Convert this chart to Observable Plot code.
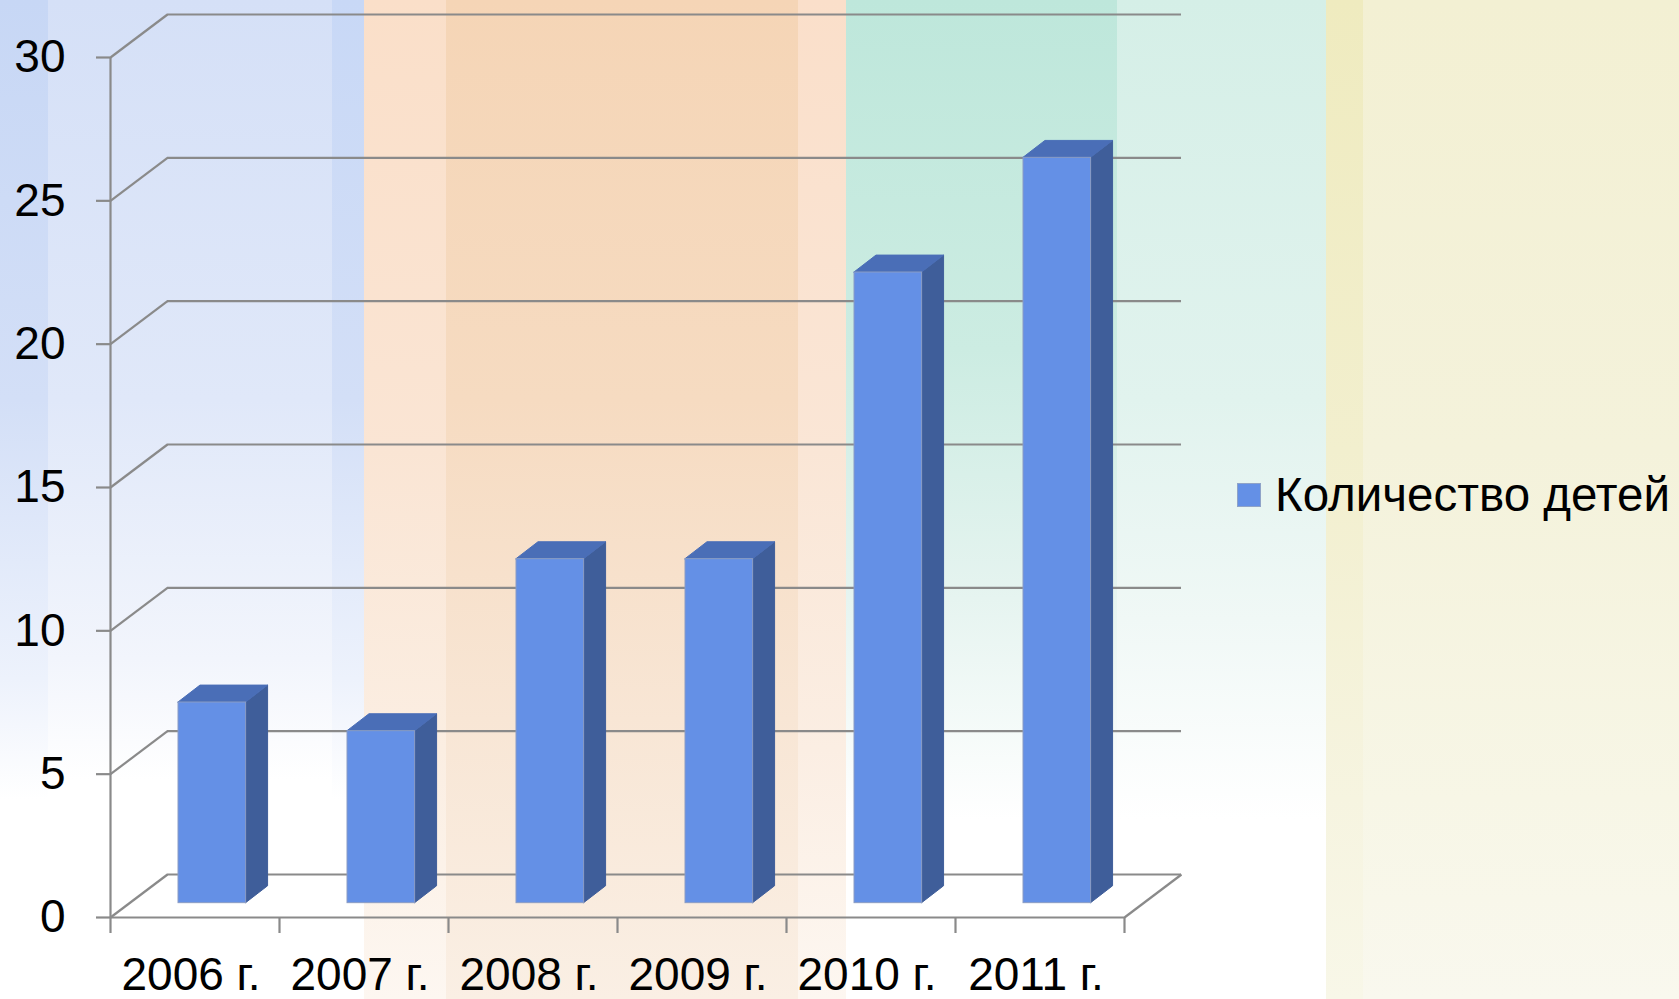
<!DOCTYPE html>
<html>
<head>
<meta charset="utf-8">
<script src="https://cdn.jsdelivr.net/npm/d3@7"></script>
<script src="https://cdn.jsdelivr.net/npm/@observablehq/plot@0.6"></script>
<style>
  html, body { margin: 0; padding: 0; background: #fff; }
  #wrap { position: relative; width: 1679px; height: 999px; overflow: hidden; font-family: "Liberation Sans", Arial, sans-serif; }
  .band { position: absolute; top: 0; height: 999px; }
  #chart { position: absolute; left: 0; top: 0; }
  #legend { position: absolute; left: 1237px; top: 467px; display: flex; align-items: center; font-size: 47.5px; color: #000; white-space: nowrap; }
  #legend .sw { width: 24px; height: 24px; background: #6490E6; border: 1px solid #8fa3c8; margin-right: 14px; box-sizing: border-box; }
</style>
</head>
<body>
<div id="wrap">
  <div class="band" style="left:0;width:48px;background:linear-gradient(to bottom,#C7D7F5 0%,#D3DFF7 40%,#EDF2FC 68%,#FFFFFF 80%,#FFFFFF 100%)"></div>
  <div class="band" style="left:48px;width:284px;background:linear-gradient(to bottom,#D5E0F7 0%,#E0E8F9 40%,#F2F5FC 66%,#FFFFFF 78%,#FFFFFF 100%)"></div>
  <div class="band" style="left:332px;width:32px;background:linear-gradient(to bottom,#C8D8F6 0%,#D3DFF7 40%,#EDF2FC 68%,#FFFFFF 80%,#FFFFFF 100%)"></div>
  <div class="band" style="left:364px;width:82px;background:linear-gradient(to bottom,#FADFC9 0%,#FAE5D4 45%,#FBEEE2 75%,#FDF7F1 100%)"></div>
  <div class="band" style="left:446px;width:352px;background:linear-gradient(to bottom,#F5D5B6 0%,#F6DBC1 40%,#F8E6D5 72%,#FAEFE4 100%)"></div>
  <div class="band" style="left:798px;width:48px;background:linear-gradient(to bottom,#FADFCA 0%,#FAE6D6 45%,#FBEEE3 75%,#FDF7F1 100%)"></div>
  <div class="band" style="left:846px;width:271px;background:linear-gradient(to bottom,#BEE7DB 0%,#CCECE2 35%,#E6F4F0 60%,#FFFFFF 82%,#FFFFFF 100%)"></div>
  <div class="band" style="left:1117px;width:209px;background:linear-gradient(to bottom,#D5EFE7 0%,#E1F3EE 40%,#F0F8F6 62%,#FFFFFF 82%,#FFFFFF 100%)"></div>
  <div class="band" style="left:1326px;width:37px;background:linear-gradient(to bottom,#EFEBBF 0%,#F2EFCE 45%,#F6F4E0 80%,#F8F7E8 100%)"></div>
  <div class="band" style="left:1363px;width:316px;background:linear-gradient(to bottom,#F3F0D3 0%,#F4F2DB 45%,#F7F6E6 80%,#F9F8EE 100%)"></div>
  <div id="legend"><div class="sw"></div><span>Количество детей</span></div>
</div>
<script>
// ---- data ----
const years = ["2006 г.", "2007 г.", "2008 г.", "2009 г.", "2010 г.", "2011 г."];
const counts = [7, 6, 12, 12, 22, 26];
const yTicks = [0, 5, 10, 15, 20, 25, 30];
const seriesName = "Количество детей";

// ---- 3D depth (in scale units) ----
const DX = 0.3373, DZ = 1.5;      // back wall offset
const FX = DX / 3, FZ = DZ / 3;   // bar front plane
const BX = 0.13, BZ = 0.59;       // bar depth
const BAR0 = 0.29, BAR1 = 0.69;   // bar within band

const bars = counts.map((v, i) => ({i, v, xl: i + BAR0 + FX, xr: i + BAR1 + FX}));
const sides = bars.flatMap(b => [
  {i: b.i, x: b.xr, y1: FZ, y2: b.v + FZ},
  {i: b.i, x: b.xr + BX, y1: FZ + BZ, y2: b.v + FZ + BZ}
]);
const tops = bars.flatMap(b => [
  {i: b.i, y: b.v + FZ, x1: b.xl, x2: b.xr},
  {i: b.i, y: b.v + FZ + BZ, x1: b.xl + BX, x2: b.xr + BX}
]);
const boundaries = d3.range(0, years.length + 1);
const centers = years.map((_, i) => i + 0.5);
const grid = "#8a8a8a";

const plot = Plot.plot({
  width: 1679,
  height: 999,
  marginLeft: 110,
  marginRight: 498,
  marginTop: 14,
  marginBottom: 82,
  style: {background: "transparent", fontFamily: "'Liberation Sans', Arial, sans-serif", color: "#000", overflow: "visible"},
  x: {type: "linear", domain: [0, years.length + DX], nice: false},
  y: {type: "linear", domain: [0, 30 + DZ], nice: false},
  marks: [
    // back wall gridlines
    Plot.ruleY(yTicks, {y: d => d + DZ, x1: DX, x2: years.length + DX, stroke: grid, strokeWidth: 2.2}),
    // side wall diagonals
    Plot.link(yTicks, {x1: 0, y1: d => d, x2: DX, y2: d => d + DZ, stroke: grid, strokeWidth: 2.2}),
    // floor right edge
    Plot.link([0], {x1: years.length, y1: 0, x2: years.length + DX, y2: DZ, stroke: grid, strokeWidth: 2.2}),
    // front floor edge (x axis line)
    Plot.ruleY([0], {x1: 0, x2: years.length, stroke: grid, strokeWidth: 2.2}),
    // y axis line
    Plot.ruleX([0], {y1: 0, y2: 30, stroke: grid, strokeWidth: 2.2}),
    // axes
    Plot.axisY(yTicks, {anchor: "left", tickSize: 14, tickPadding: 31, stroke: grid, strokeWidth: 2.2, fill: "#000", fontSize: 46}),
    Plot.axisX(boundaries, {anchor: "bottom", tickSize: 16, tickFormat: () => "", stroke: grid, strokeWidth: 2.2}),
    Plot.axisX(centers, {anchor: "bottom", tickSize: 0, tickPadding: 40, dx: -4, tickFormat: d => years[Math.floor(d)], fill: "#000", fontSize: 46}),
    // bars
    Plot.areaY(sides, {x: "x", y1: "y1", y2: "y2", z: "i", fill: "#3F5E9A", stroke: "#3F5E9A", strokeWidth: 1}),
    Plot.areaX(tops, {y: "y", x1: "x1", x2: "x2", z: "i", fill: "#4A6EB7", stroke: "#4A6EB7", strokeWidth: 1}),
    Plot.rect(bars, {x1: "xl", x2: "xr", y1: FZ, y2: d => d.v + FZ, fill: "#6490E6", stroke: "#8a9cc4", strokeWidth: 1, title: d => `${years[d.i]}: ${d.v}`})
  ]
});
plot.id = "chart";
document.getElementById("wrap").appendChild(plot);
</script>
</body>
</html>
